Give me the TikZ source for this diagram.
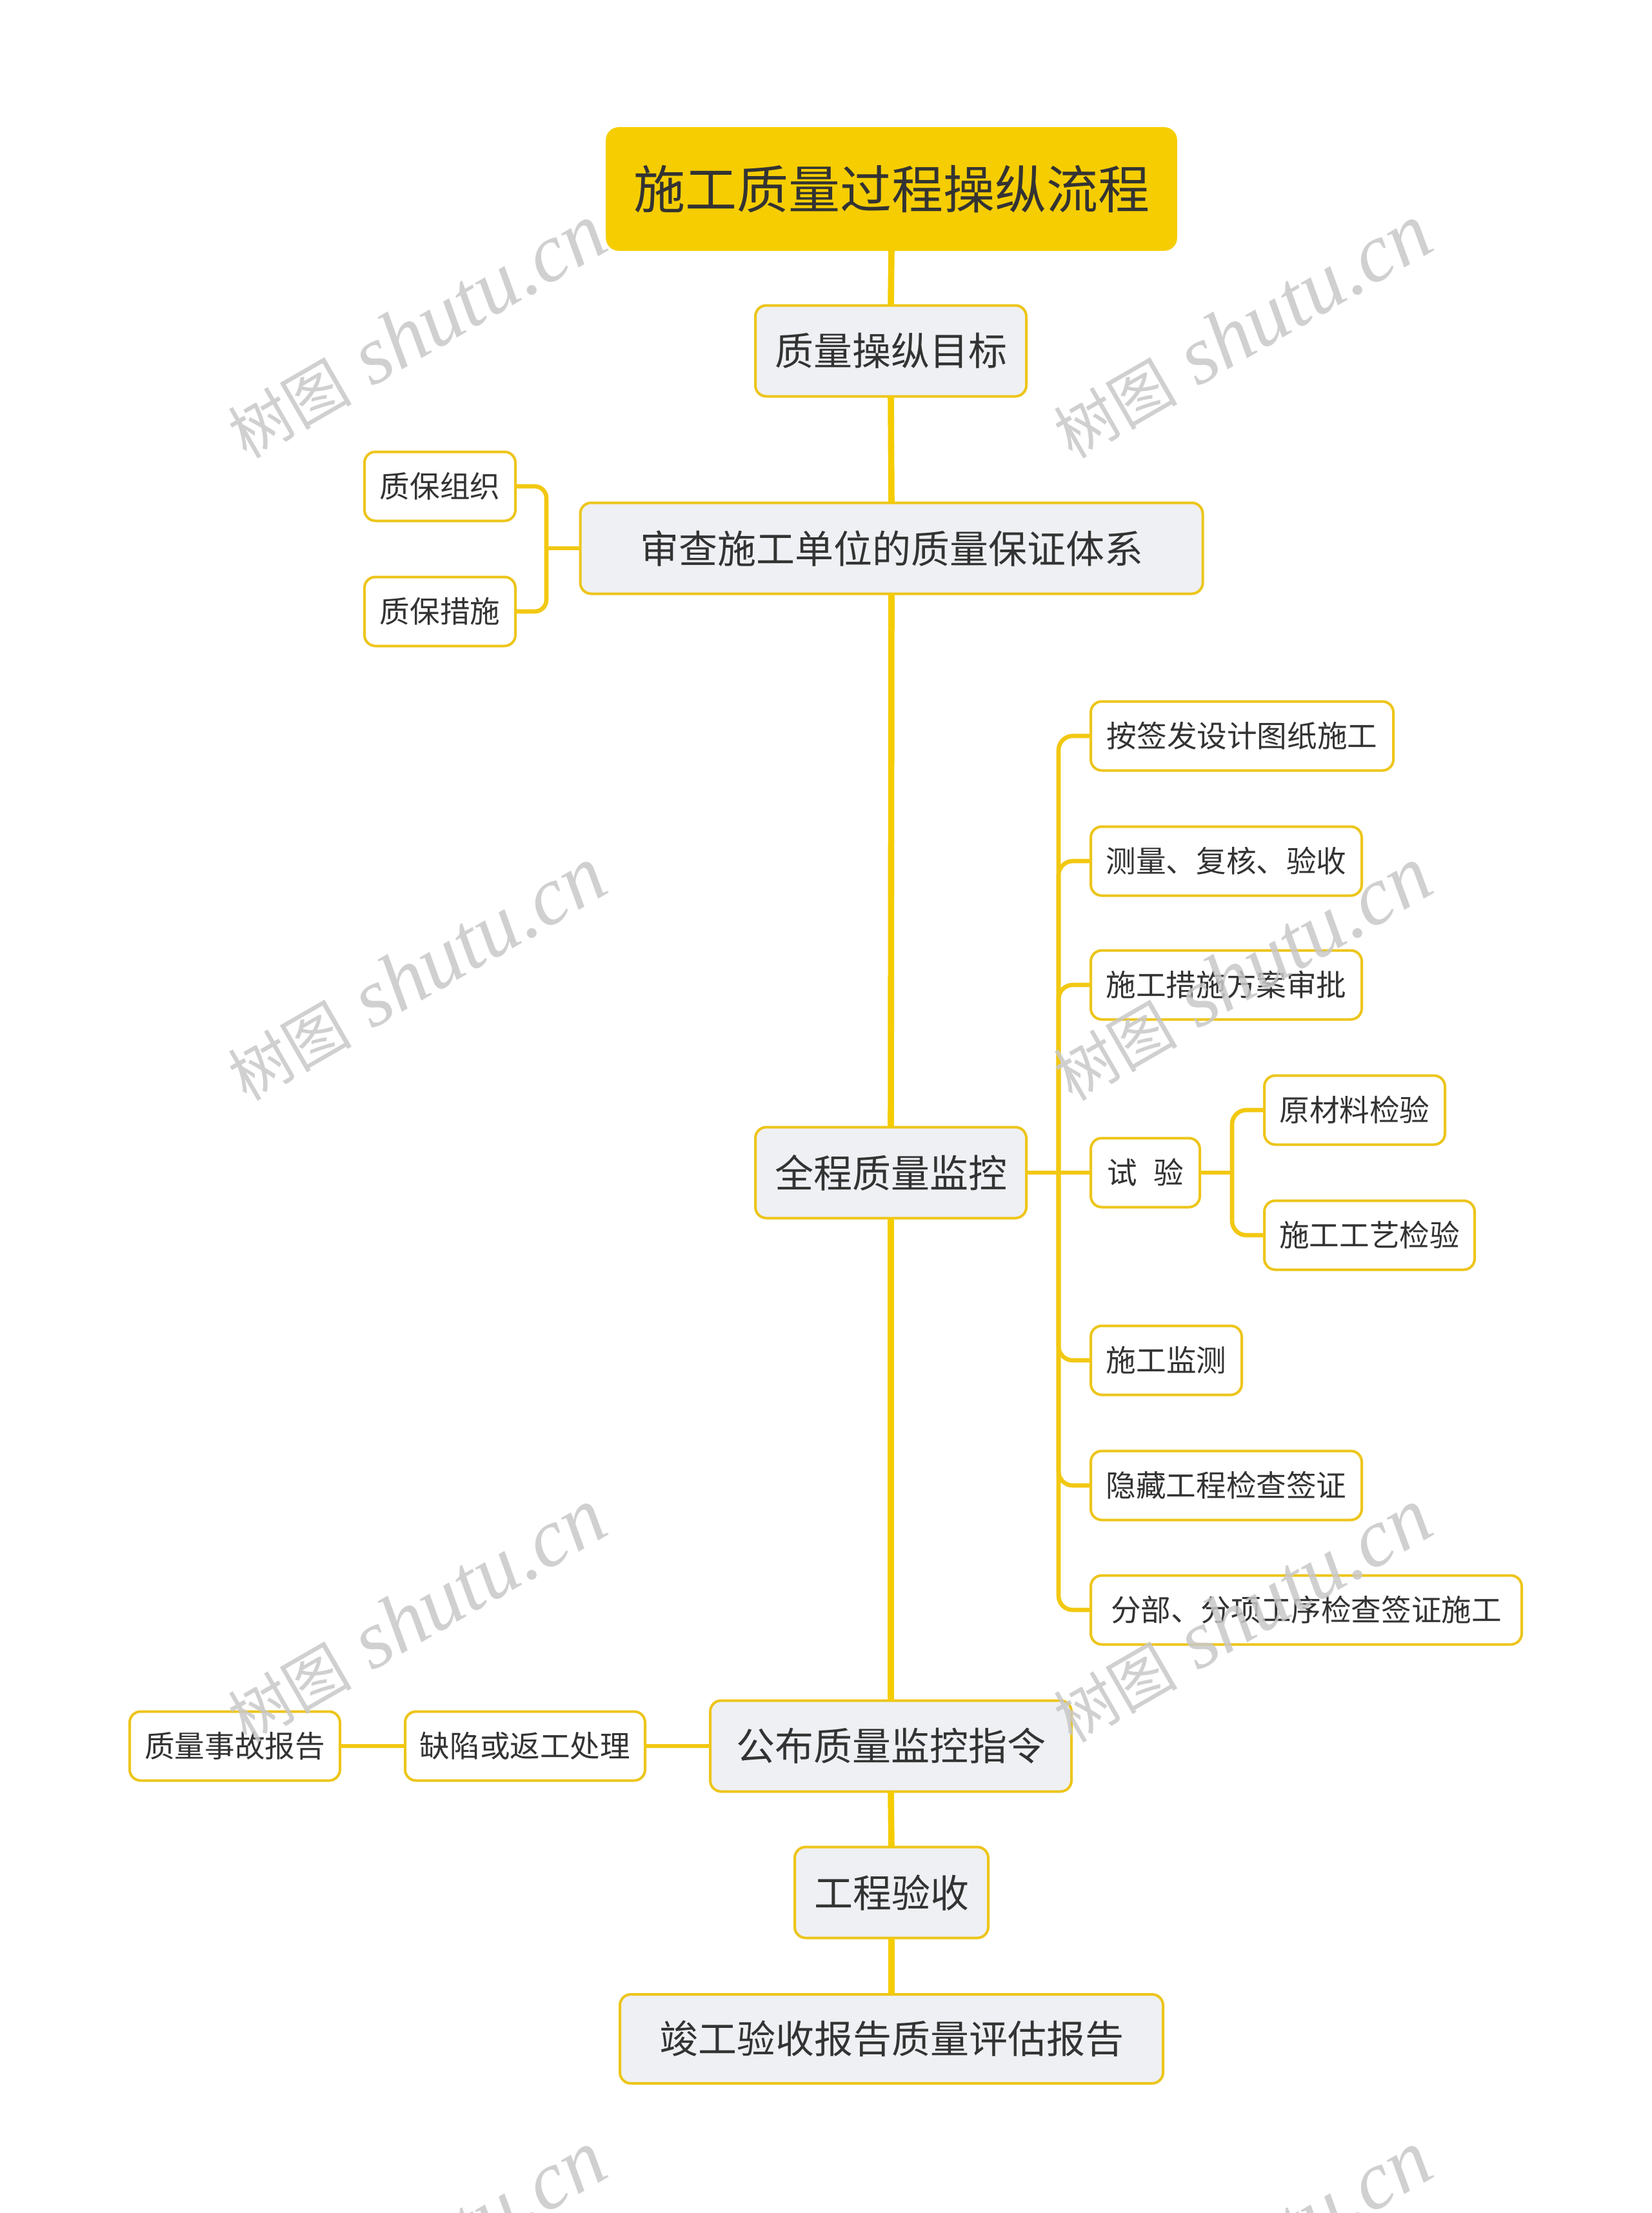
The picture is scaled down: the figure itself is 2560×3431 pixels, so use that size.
\documentclass[tikz,border=0pt]{standalone}
\usepackage{fontspec}
\setmainfont{Noto Sans CJK SC}
\newfontfamily\wmserif{Liberation Serif}
\newfontfamily\wmcjk{Noto Sans CJK SC}
\definecolor{rootY}{HTML}{F5CD00}
\definecolor{lineY}{HTML}{F2C811}
\definecolor{spineY}{HTML}{F5CC00}
\definecolor{borderY}{HTML}{EDC51A}
\definecolor{boxgray}{HTML}{EEF0F3}
\definecolor{txt}{HTML}{333333}
\definecolor{wmgray}{HTML}{C8C8C8}
\tikzset{
  basebox/.style={rounded corners=8.5pt, inner sep=0pt, outer sep=0pt, text=txt, align=center},
  rootbox/.style={basebox, fill=rootY, draw=rootY, line width=1.8pt, rounded corners=9pt,
    minimum width=441pt, minimum height=94pt, font=\fontsize{40pt}{48pt}\selectfont},
  lvone/.style={basebox, fill=boxgray, draw=borderY, line width=2pt,
    minimum height=70.5pt, font=\fontsize{30pt}{36pt}\selectfont},
  lvtwo/.style={basebox, fill=white, draw=borderY, line width=2pt,
    minimum height=53.5pt, font=\fontsize{23.3pt}{28pt}\selectfont},
  conn/.style={draw=lineY, line width=3.3pt},
  spine/.style={draw=spineY, line width=4.8pt},
  wm/.style={text=wmgray, opacity=0.85, rotate=30, inner sep=0pt}
}
\begin{document}
\begin{tikzpicture}[x=0.5pt, y=-0.5pt]
\useasboundingbox (0,0) rectangle (2560,3431);
\fill[white] (0,0) rectangle (2560,3431);
\begin{scope}
\clip (0,0) rectangle (2560,3431);
% main column
\node[rootbox] (root) at (1382,293) {施工质量过程操纵流程};
\node[lvone, minimum width=210pt] (goal) at (1381,544) {质量操纵目标};
\node[lvone, minimum width=482.5pt] (shen) at (1382,850) {审查施工单位的质量保证体系};
\node[lvone, minimum width=210pt] (qc) at (1381,1818) {全程质量监控};
\node[lvone, minimum width=280pt] (pub) at (1381,2707) {公布质量监控指令};
\node[lvone, minimum width=150pt] (ys) at (1382,2934) {工程验收};
\node[lvone, minimum width=421pt, minimum height=69pt] (jg) at (1382,3161) {竣工验收报告质量评估报告};
% left of shen
\node[lvtwo, minimum width=117pt] (zbzz) at (682,754) {质保组织};
\node[lvtwo, minimum width=117pt] (zbcs) at (682,948) {质保措施};
% right of qc
\node[lvtwo, anchor=west, minimum width=234.5pt] (a1) at (1691,1141) {按签发设计图纸施工};
\node[lvtwo, anchor=west, minimum width=210pt] (a2) at (1691,1335) {测量、复核、验收};
\node[lvtwo, anchor=west, minimum width=210pt] (a3) at (1691,1527) {施工措施方案审批};
\node[lvtwo, anchor=west, minimum width=84.5pt] (a4) at (1691,1818) {试\hspace{0.55em}验};
\node[lvtwo, anchor=west, minimum width=140pt] (b1) at (1960,1721) {原材料检验};
\node[lvtwo, anchor=west, minimum width=163pt] (b2) at (1960,1915) {施工工艺检验};
\node[lvtwo, anchor=west, minimum width=117pt] (a5) at (1691,2109) {施工监测};
\node[lvtwo, anchor=west, minimum width=210pt] (a6) at (1691,2303) {隐藏工程检查签证};
\node[lvtwo, anchor=west, minimum width=334pt] (a7) at (1691,2496) {分部、分项工序检查签证施工};
% left of pub
\node[lvtwo, minimum width=186pt] (qx) at (814,2707) {缺陷或返工处理};
\node[lvtwo, minimum width=163pt] (sg) at (364,2707) {质量事故报告};
% junctions
\coordinate (jL) at (847,850);
\coordinate (jR) at (1641,1818);
\coordinate (jS) at (1910,1818);
% spine
\draw[spine] (root.south) -- (goal.north);
\draw[spine] (goal.south) -- (shen.north);
\draw[spine] (shen.south) -- (qc.north);
\draw[spine] (qc.south) -- (pub.north);
\draw[spine] (pub.south) -- (ys.north);
\draw[spine] (ys.south) -- (jg.north);
% left bracket
\draw[conn] (shen.west) -- (jL);
\draw[conn, rounded corners=9pt] (zbzz.east) -| (jL) |- (zbcs.east);
% right branch
\draw[conn] (qc.east) -- (jR);
\foreach \n in {a1,a2,a3,a5,a6,a7}{
  \draw[conn, rounded corners=11pt] (jR) |- (\n.west);
}
\draw[conn] (jR) -- (a4.west);
\draw[conn] (a4.east) -- (jS);
\draw[conn, rounded corners=11pt] (jS) |- (b1.west);
\draw[conn, rounded corners=11pt] (jS) |- (b2.west);
% left of pub
\draw[conn] (pub.west) -- (qx.east);
\draw[conn] (qx.west) -- (sg.east);
% watermarks
\foreach \wx/\wy/\k in {645/514/1,1925/514/2,645/1510/3,1925/1510/4,645/2505/5,1925/2505/6,645/3501/7,1925/3501/8}{
  \node[wm] (wm\k) at (\wx,\wy) {{\wmcjk\fontsize{48pt}{56pt}\selectfont 树图}{\wmserif\itshape\fontsize{64pt}{70pt}\selectfont\ shutu.cn}};
}
\end{scope}
\end{tikzpicture}
\end{document}
